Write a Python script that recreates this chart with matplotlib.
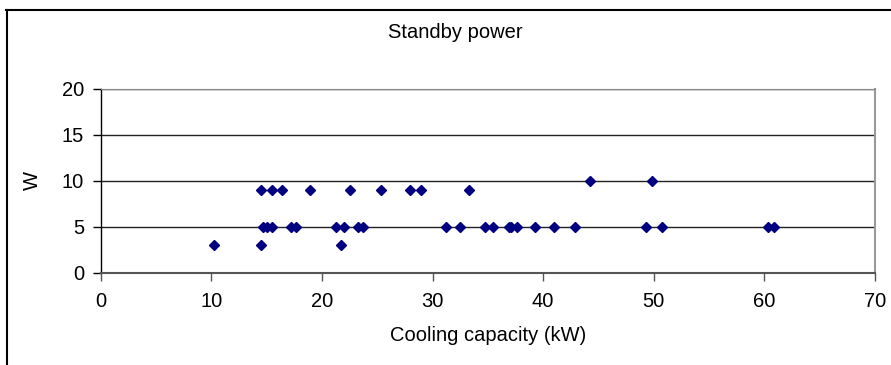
import matplotlib
matplotlib.use('Agg')
import matplotlib.pyplot as plt
from matplotlib.lines import Line2D

# Cooling capacity (kW) and standby power (W)
capacity_kw = [10.2, 14.5, 21.7,
               14.5, 15.5, 16.4, 18.9, 22.5, 25.3, 28.0, 29.0, 33.3,
               44.2, 49.8,
               14.7, 15.0, 15.5, 17.2, 17.7, 21.3, 22.0, 23.3, 23.7,
               31.2, 32.5, 34.7, 35.5, 36.9, 37.1, 37.6, 39.3, 41.0,
               42.9, 49.3, 50.7, 60.3, 60.9]
standby_w = [3, 3, 3,
             9, 9, 9, 9, 9, 9, 9, 9, 9,
             10, 10,
             5, 5, 5, 5, 5, 5, 5, 5, 5,
             5, 5, 5, 5, 5, 5, 5, 5, 5,
             5, 5, 5, 5, 5]

x_ticks = [0, 10, 20, 30, 40, 50, 60, 70]
y_ticks = [0, 5, 10, 15, 20]

plt.rcParams['font.family'] = ['Liberation Sans', 'DejaVu Sans']

W, H = 891, 365
fig = plt.figure(figsize=(W / 100, H / 100), dpi=100)
ax = fig.add_axes([100.7 / W, 1 - 272.7 / H, (875 - 100.7) / W, (272.7 - 89) / H])

# outer chart border (left and top visible)
fig.add_artist(Line2D([6.5 / W, 6.5 / W], [0, 1 - 10 / H], transform=fig.transFigure,
                      color='black', lw=1.5))
fig.add_artist(Line2D([6 / W, 1], [1 - 10 / H, 1 - 10 / H], transform=fig.transFigure,
                      color='black', lw=1.5))

for yv in y_ticks[1:]:
    ax.axhline(yv, color='#222222', lw=1.0, zorder=1)

ax.plot(capacity_kw, standby_w, linestyle='none', marker='D', markersize=5,
        color='#000080', zorder=3, clip_on=False)

ax.set_xlim(0, 70)
ax.set_ylim(0, 20)
ax.set_xticks(x_ticks)
ax.set_yticks(y_ticks)
ax.tick_params(axis='both', direction='out', length=6, width=1, labelsize=14.5,
               colors='black')
ax.tick_params(axis='x', pad=8, color='#555555')
ax.tick_params(axis='y', pad=6)

ax.spines['left'].set_color('black')
ax.spines['left'].set_linewidth(1.0)
ax.spines['bottom'].set_color('#555555')
ax.spines['bottom'].set_linewidth(1.5)
ax.spines['top'].set_color('#888888')
ax.spines['right'].set_color('#999999')
ax.spines['right'].set_linewidth(1.5)

ax.set_xlabel('Cooling capacity (kW)', fontsize=14.5, labelpad=11)
ax.set_ylabel('W', fontsize=14.5, labelpad=14)
fig.text(455 / W, 1 - 33 / H, 'Standby power', ha='center', va='center', fontsize=14.5)

fig.savefig('out.png', dpi=100)
